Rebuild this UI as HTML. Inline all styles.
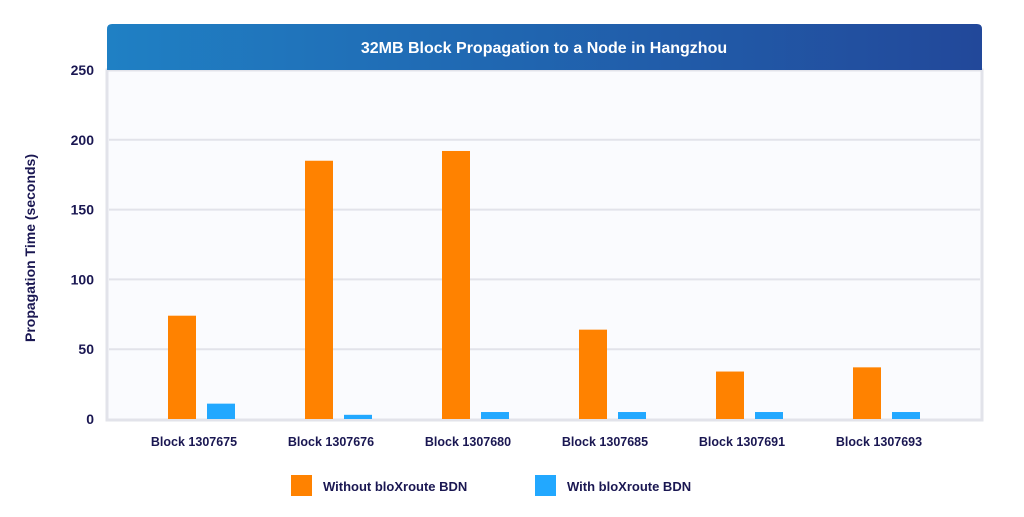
<!DOCTYPE html>
<html><head><meta charset="utf-8"><style>
body{margin:0;width:1024px;height:512px;background:#fff;font-family:"Liberation Sans",sans-serif;overflow:hidden}
</style></head><body>
<svg width="1024" height="512">
<defs><linearGradient id="hg" x1="0" x2="1"><stop offset="0" stop-color="#1f80c4"/><stop offset="1" stop-color="#22489a"/></linearGradient></defs>
<rect x="107" y="70" width="875" height="350" fill="#fafbfe" stroke="#e2e3ea" stroke-width="3"/>
<path d="M107,70 V29 Q107,24 112,24 H977 Q982,24 982,29 V70 Z" fill="url(#hg)"/>
<text x="544" y="53" text-anchor="middle" fill="#fff" font-size="16" font-weight="bold">32MB Block Propagation to a Node in Hangzhou</text>
<g id="grid"></g><g id="bars"></g><g id="labels"></g>
<text transform="translate(35,248) rotate(-90)" text-anchor="middle" fill="#1a1752" font-size="14" font-weight="bold">Propagation Time (seconds)</text>
<rect x="291" y="475" width="21" height="21" fill="#ff8200"/>
<text x="323" y="491" fill="#1a1752" font-size="13" font-weight="bold">Without bloXroute BDN</text>
<rect x="535" y="475" width="21" height="21" fill="#22a8ff"/>
<text x="567" y="491" fill="#1a1752" font-size="13" font-weight="bold">With bloXroute BDN</text>
</svg>
<script>
const categories=["Block 1307675","Block 1307676","Block 1307680","Block 1307685","Block 1307691","Block 1307693"];
const withoutBDN=[74,185,192,64,34,37];
const withBDN=[11,3,5,5,5,5];
const yTicks=[0,50,100,150,200,250];
const NS="http://www.w3.org/2000/svg";
const y=v=>419-v*349/250;
const x=i=>168+i*137;
function mk(t,a,p){const e=document.createElementNS(NS,t);for(const k in a)e.setAttribute(k,a[k]);p.appendChild(e);return e;}
const g=document.getElementById('grid'),b=document.getElementById('bars'),l=document.getElementById('labels');
yTicks.forEach(v=>{
 if(v>0&&v<250){const ln=mk('line',{x1:109,x2:980,y1:y(v),y2:y(v),stroke:'#e2e3ea','stroke-width':2},g);
 
 }
 const t=mk('text',{x:94,y:y(v)+5,'text-anchor':'end',fill:'#1a1752','font-size':14,'font-weight':'bold'},l);
 t.textContent=v;
 
 
});
categories.forEach((c,i)=>{
 const r1=mk('rect',{x:x(i),y:y(withoutBDN[i]),width:28,height:419-y(withoutBDN[i]),fill:'#ff8200'},b);
 
 
 const r2=mk('rect',{x:x(i)+39,y:y(withBDN[i]),width:28,height:419-y(withBDN[i]),fill:'#22a8ff'},b);
 
 
 const t=mk('text',{x:x(i)+26,y:446,'text-anchor':'middle',fill:'#1a1752','font-size':12.5,'font-weight':'bold'},l);
 t.textContent=c;
 
 
});
</script>
</body></html>
